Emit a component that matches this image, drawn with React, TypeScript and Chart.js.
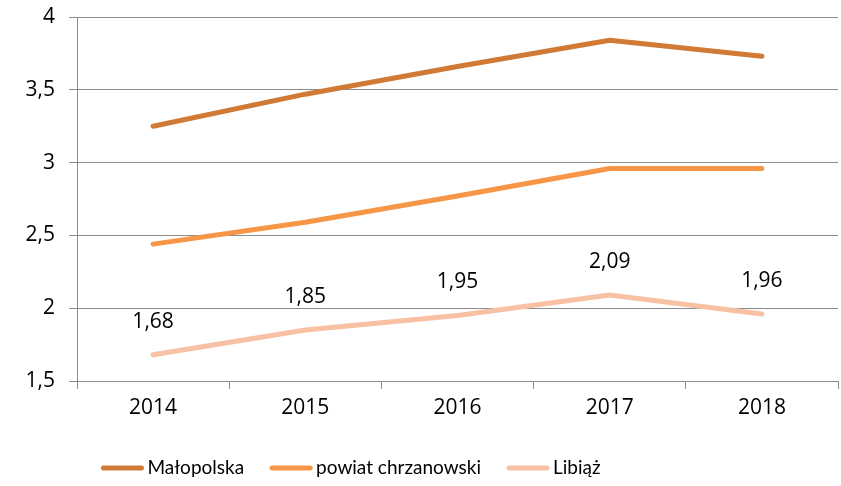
import React, { useEffect, useRef } from "react";
import { Chart, registerables } from "chart.js";

Chart.register(...registerables);

const categories = ["2014", "2015", "2016", "2017", "2018"];
const malopolska = [3.25, 3.47, 3.66, 3.84, 3.73];
const powiat = [2.44, 2.59, 2.77, 2.96, 2.96];
const libiaz = [1.68, 1.85, 1.95, 2.09, 1.96];
const seriesNames = ["Małopolska", "powiat chrzanowski", "Libiąż"];
const seriesColors = ["#D07A35", "#F79646", "#F8C1A4"];
const labeledSeries = [2];

const NUM_FONT = "'Open Sans', Lato, sans-serif";
const TXT_FONT = "Lato, 'Open Sans', sans-serif";
const fmt = (v: number) => v.toString().replace(".", ",");

const dataLabelsPlugin = {
  id: "dataLabels",
  afterDatasetsDraw(chart: any) {
    const ctx = chart.ctx;
    ctx.save();
    ctx.font = `21px ${NUM_FONT}`;
    ctx.fillStyle = "#000";
    ctx.textAlign = "center";
    ctx.textBaseline = "middle";
    labeledSeries.forEach((di) => {
      const meta = chart.getDatasetMeta(di);
      meta.data.forEach((pt: any, i: number) => {
        const v = chart.data.datasets[di].data[i];
        ctx.fillText(fmt(v), pt.x, pt.y - 33);
      });
    });
    ctx.restore();
  },
};

const legendPlugin = {
  id: "customLegend",
  afterDraw(chart: any) {
    const ctx = chart.ctx;
    ctx.save();
    ctx.font = `19px ${TXT_FONT}`;
    const box = 42;
    const gap = 4;
    const itemGap = 26;
    const widths = chart.data.datasets.map((d: any) => ctx.measureText(d.label).width);
    const total =
      widths.reduce((a: number, w: number) => a + box + gap + w, 0) + itemGap * (widths.length - 1);
    let x = 351 - total / 2;
    const y = 468;
    chart.data.datasets.forEach((d: any, i: number) => {
      ctx.strokeStyle = d.borderColor;
      ctx.lineWidth = 5;
      ctx.lineCap = "round";
      ctx.beginPath();
      ctx.moveTo(x + 2, y);
      ctx.lineTo(x + box - 2, y);
      ctx.stroke();
      ctx.fillStyle = "#000";
      ctx.textAlign = "left";
      ctx.textBaseline = "middle";
      ctx.fillText(d.label, x + box + gap, y);
      x += box + gap + widths[i] + itemGap;
    });
    ctx.restore();
  },
};

export default function App() {
  const ref = useRef<HTMLCanvasElement>(null);
  useEffect(() => {
    document.body.style.margin = "0";
    const allData = [malopolska, powiat, libiaz];
    const chart = new Chart(ref.current!, {
      type: "line",
      data: {
        labels: categories,
        datasets: allData.map((d, i) => ({
          label: seriesNames[i],
          data: d,
          borderColor: seriesColors[i],
          backgroundColor: seriesColors[i],
          borderWidth: 5,
          pointRadius: 0,
          borderCapStyle: "round",
          borderJoinStyle: "round",
          tension: 0,
        })),
      },
      options: {
        responsive: false,
        animation: false,
        layout: { padding: { top: 17, right: 3, bottom: 60, left: 0 } },
        plugins: {
          legend: { display: false },
          tooltip: { enabled: false },
        },
        scales: {
          x: {
            offset: true,
            grid: {
              offset: true,
              drawOnChartArea: false,
              drawTicks: true,
              tickLength: 8,
              color: "#8c8c8c",
            },
            border: { display: true, color: "#8c8c8c", width: 1 },
            ticks: {
              color: "#000",
              font: { family: NUM_FONT, size: 21 },
              padding: 6,
            },
            afterFit(scale: any) {
              scale.height = 45;
            },
          },
          y: {
            min: 1.5,
            max: 4,
            grid: { color: "#8c8c8c", tickLength: 8, drawTicks: true },
            border: { display: true, color: "#8c8c8c", width: 1 },
            ticks: {
              stepSize: 0.5,
              color: "#000",
              font: { family: NUM_FONT, size: 21 },
              padding: 14,
              callback: (v: any) => fmt(Number(v)),
            },
            afterFit(scale: any) {
              scale.width = 77;
              scale.paddingTop = 0;
              scale.paddingBottom = 0;
            },
          },
        },
      },
      plugins: [dataLabelsPlugin, legendPlugin],
    });
    return () => chart.destroy();
  }, []);
  return <canvas ref={ref} width={841} height={486} style={{ display: "block" }} />;
}
